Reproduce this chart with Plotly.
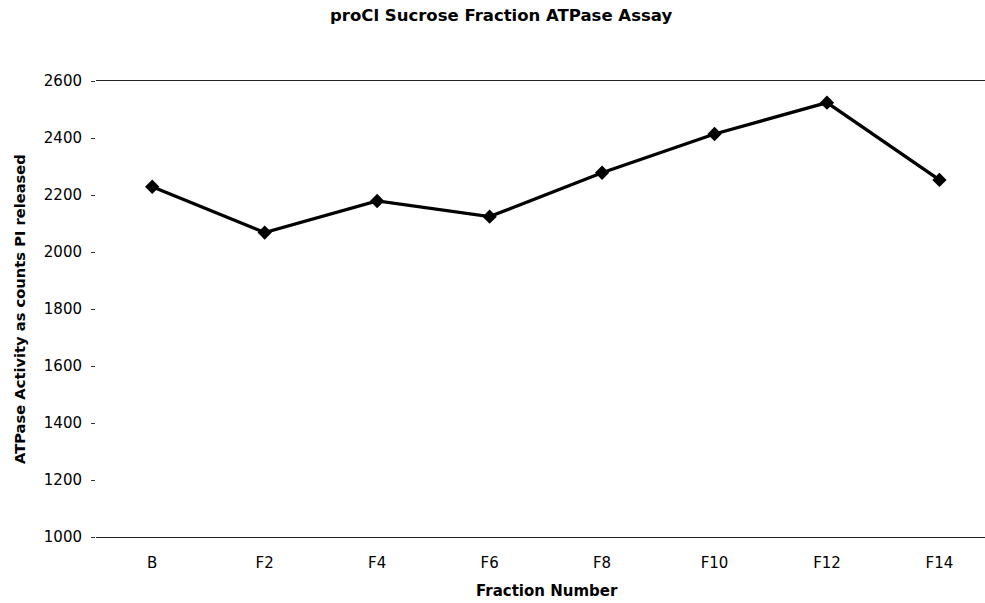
import plotly.graph_objects as go

# ATPase activity per sucrose gradient fraction
fractions = ["B", "F2", "F4", "F6", "F8", "F10", "F12", "F14"]
counts_pi = [2229, 2068, 2179, 2124, 2278, 2414, 2524, 2253]
y_ticks = [1000, 1200, 1400, 1600, 1800, 2000, 2200, 2400, 2600]

W, H = 985, 603
FONT = "DejaVu Sans"

fig = go.Figure()
fig.add_trace(go.Scatter(
    x=list(range(len(fractions))),
    y=counts_pi,
    mode="lines+markers",
    line=dict(color="black", width=3.3),
    marker=dict(symbol="diamond", size=11, color="black"),
    showlegend=False,
    hoverinfo="skip",
))

fig.update_layout(
    width=W, height=H,
    margin=dict(l=96, r=0, t=81, b=66),
    paper_bgcolor="white",
    plot_bgcolor="white",
    font=dict(family=FONT, color="black", size=15),
    xaxis=dict(
        range=[-0.5, 7.405],
        tickmode="array",
        tickvals=list(range(len(fractions))),
        ticktext=fractions,
        showgrid=False,
        zeroline=False,
        showline=True,
        mirror=True,
        linecolor="#222",
        linewidth=1,
        ticks="",
        ticklabelstandoff=12,
        tickfont=dict(family=FONT, size=15, color="black"),
    ),
    yaxis=dict(
        range=[1000, 2600],
        tickmode="array",
        tickvals=y_ticks,
        showgrid=False,
        zeroline=False,
        showline=False,
        ticks="outside",
        ticklen=4,
        tickwidth=1,
        tickcolor="#333",
        ticklabelstandoff=6,
        tickfont=dict(family=FONT, size=15, color="black"),
    ),
)

# chart title
fig.add_annotation(
    text="<b>proCl Sucrose Fraction ATPase Assay</b>",
    xref="paper", yref="paper",
    x=(501 - 96) / (W - 96), y=1,
    yshift=66, showarrow=False,
    xanchor="center", yanchor="middle",
    font=dict(family=FONT, size=16.5, color="black"),
)
# x-axis title
fig.add_annotation(
    text="<b>Fraction Number</b>",
    xref="paper", yref="paper",
    x=(547 - 96) / (W - 96), y=0,
    yshift=-54, showarrow=False,
    xanchor="center", yanchor="middle",
    font=dict(family=FONT, size=15, color="black"),
)
# y-axis title
fig.add_annotation(
    text="<b>ATPase Activity as counts PI released</b>",
    xref="paper", yref="paper",
    x=0, y=0.5,
    xshift=-77, showarrow=False,
    textangle=-90,
    xanchor="center", yanchor="middle",
    font=dict(family=FONT, size=14.7, color="black"),
)

fig.write_html("out.html")
